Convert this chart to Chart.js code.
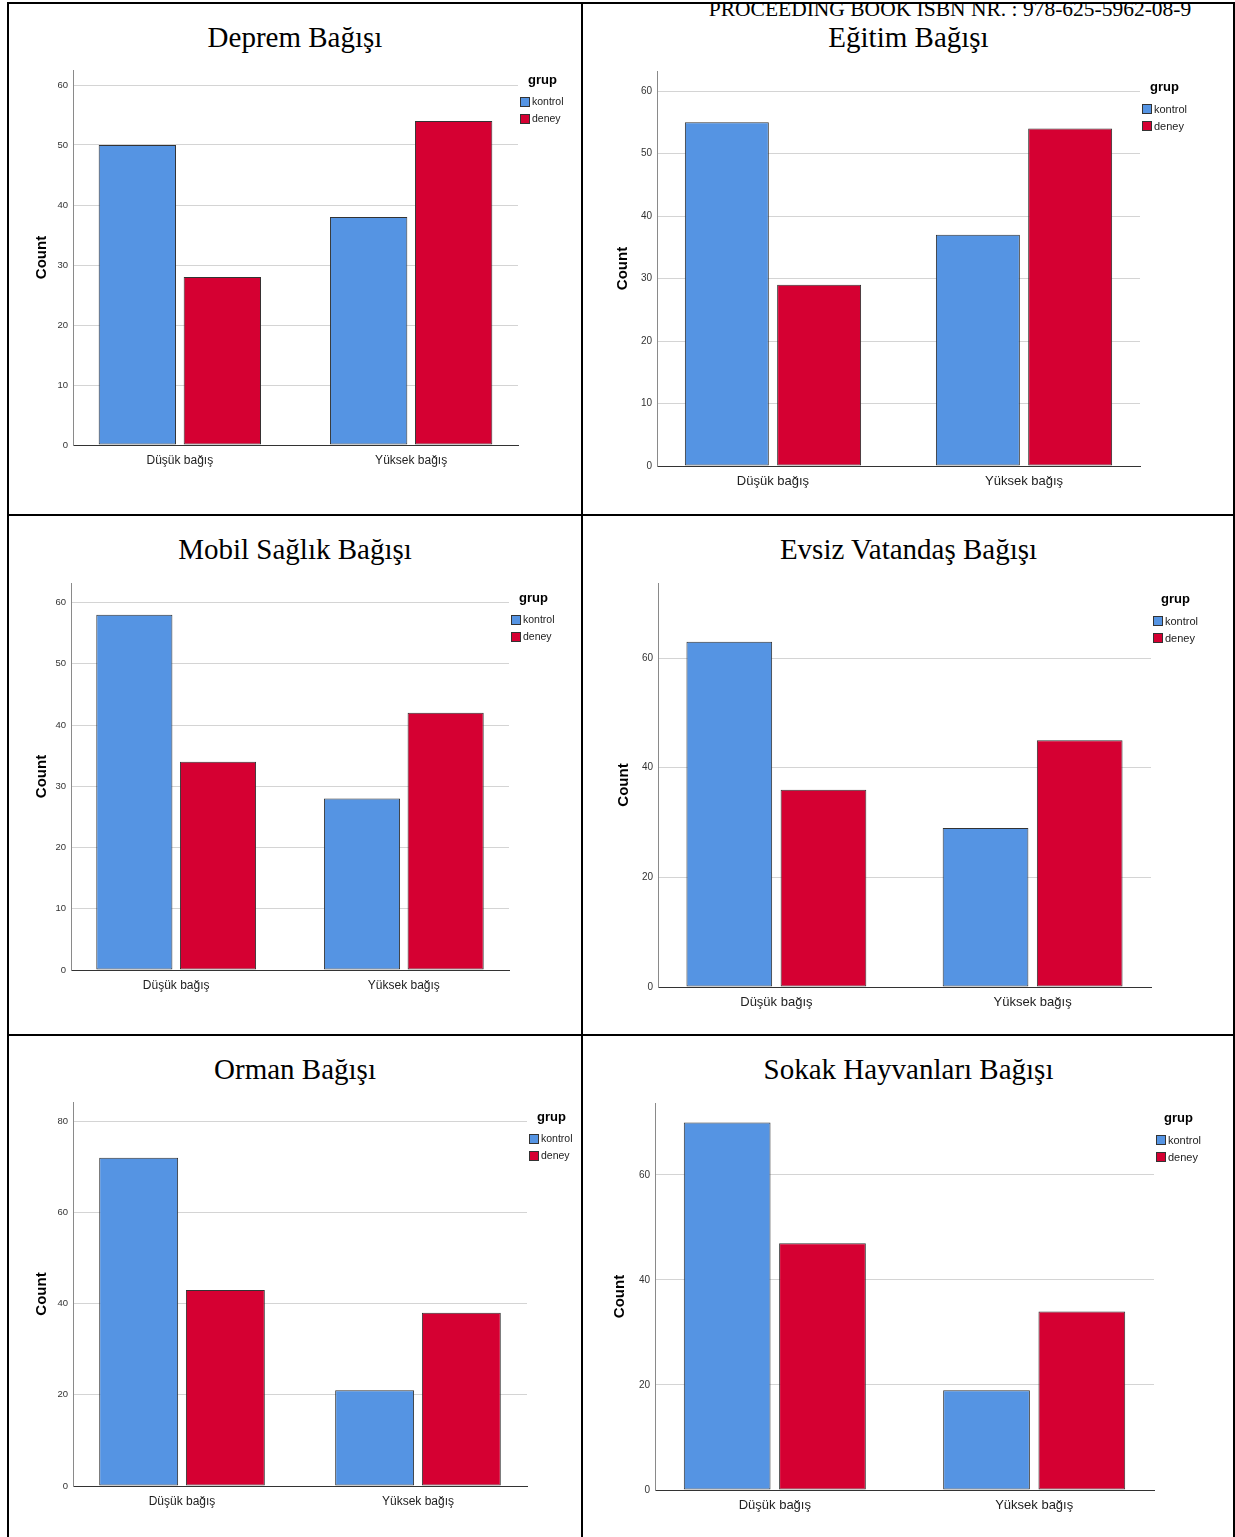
<!DOCTYPE html>
<html>
<head>
<meta charset="utf-8">
<script src="https://cdn.jsdelivr.net/npm/chart.js@4.4.1/dist/chart.umd.min.js"></script>
<style>
  body { margin: 0; background: #fff; width: 1235px; height: 1537px; position: relative; overflow: hidden; font-family: "Liberation Sans", Arial, sans-serif; }
  .rule { position: absolute; background: #000; }
  .title { position: absolute; font-family: "Liberation Serif", "Times New Roman", serif; font-size: 29px; line-height: 29px; color: #000; text-align: center; white-space: nowrap; }
  #header { position: absolute; left: 580px; width: 740px; top: -1px; text-align: center; font-family: "Liberation Serif", "Times New Roman", serif; font-size: 21.5px; line-height: 21.5px; color: #000; white-space: nowrap; }
  canvas { position: absolute; }
</style>
</head>
<body>
<div id="header">PROCEEDING BOOK ISBN NR. : 978-625-5962-08-9</div>

<script>
// chart values
const categories = ['Düşük bağış', 'Yüksek bağış'];
const seriesNames = ['kontrol', 'deney'];
const legendTitle = 'grup';
const axisTitle = 'Count';
const panelTitles = ['Deprem Bağışı', 'Eğitim Bağışı', 'Mobil Sağlık Bağışı', 'Evsiz Vatandaş Bağışı', 'Orman Bağışı', 'Sokak Hayvanları Bağışı'];
const kontrolValues = [[50, 38], [55, 37], [58, 28], [63, 29], [72, 21], [70, 19]];
const deneyValues = [[28, 54], [29, 54], [34, 42], [36, 45], [43, 38], [47, 34]];
const yTickLabels = [
  [0, 10, 20, 30, 40, 50, 60],
  [0, 10, 20, 30, 40, 50, 60],
  [0, 10, 20, 30, 40, 50, 60],
  [0, 20, 40, 60],
  [0, 20, 40, 60, 80],
  [0, 20, 40, 60]
];
const yMaxValues = [62.5, 63.2, 63.2, 73.7, 84.2, 73.7];

const seriesColors = ['#5594e3', '#d50032'];
// SPSS leaves a little less than half a category at each end of the x axis
const xEdge = 0.462;

// page geometry of each table cell and its plot area
const panelLayout = [
  { cell: [8, 3, 582, 515],     axisX: 73,  top: 70,   bottom: 445,  right: 518,  countX: 42,  grupDy: 10, labelSize: 12, tickSize: 9.5, legendSize: 10.5 },
  { cell: [582, 3, 1235, 515],  axisX: 657, top: 71,   bottom: 466,  right: 1140, countX: 623, grupDy: 16, labelSize: 13, tickSize: 10,  legendSize: 11 },
  { cell: [8, 515, 582, 1035],  axisX: 71,  top: 583,  bottom: 970,  right: 509,  countX: 42,  grupDy: 15, labelSize: 12, tickSize: 9.5, legendSize: 10.5 },
  { cell: [582, 515, 1235, 1035], axisX: 658, top: 583, bottom: 987, right: 1151, countX: 624, grupDy: 16, labelSize: 13, tickSize: 10,  legendSize: 11 },
  { cell: [8, 1035, 582, 1537], axisX: 73,  top: 1102, bottom: 1486, right: 527,  countX: 42,  grupDy: 15, labelSize: 12, tickSize: 9.5, legendSize: 10.5 },
  { cell: [582, 1035, 1235, 1537], axisX: 655, top: 1103, bottom: 1490, right: 1154, countX: 620, grupDy: 15, labelSize: 13, tickSize: 10, legendSize: 11 }
];

const SANS = '"Liberation Sans", Arial, sans-serif';

function addRule(x, y, w, h) {
  const d = document.createElement('div');
  d.className = 'rule';
  d.style.left = x + 'px'; d.style.top = y + 'px';
  d.style.width = w + 'px'; d.style.height = h + 'px';
  document.body.appendChild(d);
}

// table borders
addRule(7, 2, 1228, 2);
addRule(7, 2, 2, 1535);
addRule(581, 2, 2, 1535);
addRule(1233, 2, 2, 1535);
addRule(7, 514, 1228, 2);
addRule(7, 1034, 1228, 2);

// legend box to the right of the plot, like the SPSS one
const grupLegend = {
  id: 'grupLegend',
  afterDraw(chart, args, opts) {
    const { ctx, chartArea } = chart;
    const x = chartArea.right + 2;
    const y = chartArea.top + opts.dy;
    ctx.save();
    ctx.textBaseline = 'middle';
    ctx.textAlign = 'left';
    ctx.fillStyle = '#000';
    ctx.font = 'bold 13px ' + SANS;
    ctx.fillText(legendTitle, x + 8, y);
    chart.data.datasets.forEach((ds, i) => {
      const by = y + 22 + i * 17;
      ctx.fillStyle = ds.backgroundColor;
      ctx.fillRect(x, by - 5, 10, 10);
      ctx.strokeStyle = '#333';
      ctx.lineWidth = 1;
      ctx.strokeRect(x + 0.5, by - 4.5, 9, 9);
      ctx.fillStyle = '#222';
      ctx.font = opts.fs + 'px ' + SANS;
      ctx.fillText(ds.label, x + 12, by + 0.5);
    });
    ctx.restore();
  }
};

function makePanel(i) {
  const L = panelLayout[i];
  const [x0, y0, x1, y1] = L.cell;

  const t = document.createElement('div');
  t.className = 'title';
  t.style.left = x0 + 'px';
  t.style.width = (x1 - x0) + 'px';
  t.style.top = (y0 + 20) + 'px';
  t.textContent = panelTitles[i];
  document.body.appendChild(t);

  const cl = x0 + 2, ct = y0 + 56;
  const cw = x1 - x0 - 4, ch = y1 - y0 - 58;
  const canvas = document.createElement('canvas');
  canvas.width = cw; canvas.height = ch;
  canvas.style.left = cl + 'px'; canvas.style.top = ct + 'px';
  canvas.style.width = cw + 'px'; canvas.style.height = ch + 'px';
  document.body.appendChild(canvas);

  const toPoints = vals => vals.map((v, k) => ({ x: k, y: v }));
  const titleFont = 15;
  new Chart(canvas.getContext('2d'), {
    type: 'bar',
    data: {
      datasets: [
        { label: seriesNames[0], data: toPoints(kontrolValues[i]), backgroundColor: seriesColors[0] },
        { label: seriesNames[1], data: toPoints(deneyValues[i]), backgroundColor: seriesColors[1] }
      ]
    },
    options: {
      responsive: false,
      animation: false,
      devicePixelRatio: 1,
      categoryPercentage: 0.735,
      barPercentage: 0.91,
      borderWidth: 1,
      borderColor: '#333',
      borderSkipped: false,
      layout: { padding: { left: 0, top: L.top - ct, right: cl + cw - L.right, bottom: 0 } },
      plugins: {
        legend: { display: false },
        tooltip: { enabled: false },
        grupLegend: { dy: L.grupDy, fs: L.legendSize }
      },
      scales: {
        x: {
          type: 'linear',
          min: -xEdge,
          max: categories.length - 1 + xEdge,
          offset: false,
          grid: { display: false, drawTicks: false, offset: false },
          border: { color: '#333', width: 1 },
          afterBuildTicks: s => { s.ticks = categories.map((c, k) => ({ value: k })); },
          ticks: {
            color: '#222', padding: 8, maxRotation: 0,
            font: { family: SANS, size: L.labelSize },
            callback: v => categories[v]
          },
          afterFit: s => { s.height = ct + ch - L.bottom; }
        },
        y: {
          min: 0,
          max: yMaxValues[i],
          grid: { color: '#d4d4d4', drawTicks: false },
          border: { color: '#8a8a8a', width: 1 },
          ticks: { color: '#333', padding: 5, font: { family: SANS, size: L.tickSize } },
          afterBuildTicks: s => { s.ticks = yTickLabels[i].map(v => ({ value: v })); },
          afterFit: s => { s.width = L.axisX - cl; },
          title: {
            display: true,
            text: axisTitle,
            color: '#000',
            font: { family: SANS, size: titleFont, weight: 'bold' },
            padding: { top: L.countX - cl - titleFont * 1.2 / 2, bottom: 0 }
          }
        }
      }
    },
    plugins: [grupLegend]
  });
}

for (let i = 0; i < panelTitles.length; i++) makePanel(i);
</script>
</body>
</html>
